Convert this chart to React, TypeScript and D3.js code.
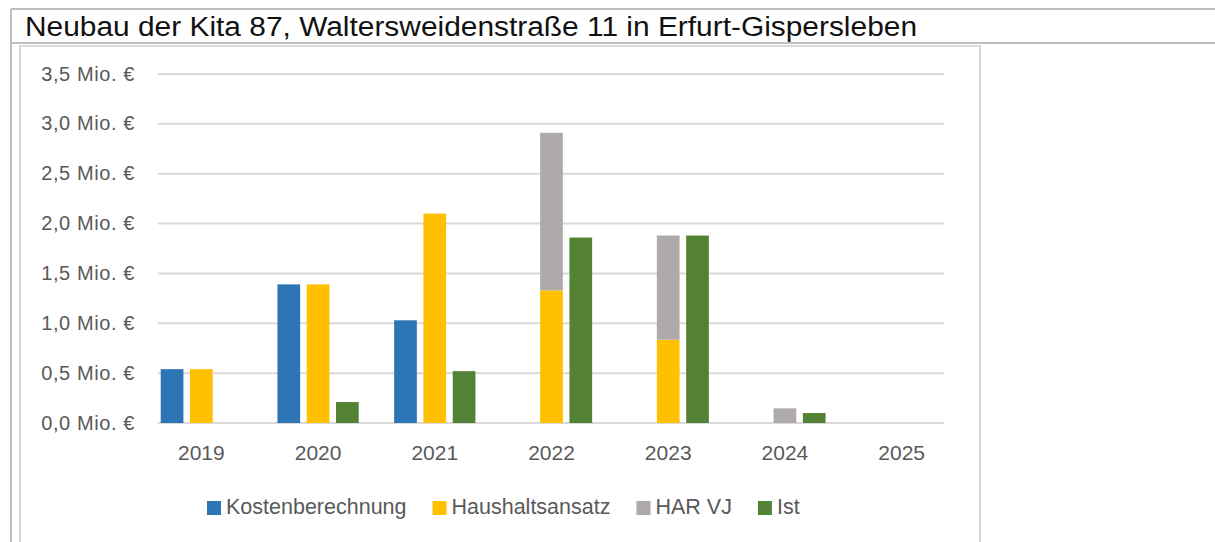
import React, { useEffect, useRef } from 'react';
import * as d3 from 'd3';

// values in Mio. €
const years = ['2019', '2020', '2021', '2022', '2023', '2024', '2025'];
const kostenberechnung = [0.54, 1.39, 1.03, 0, 0, 0, 0];
const haushaltsansatz = [0.54, 1.39, 2.1, 1.33, 0.835, 0, 0];
const harVJ = [0, 0, 0, 1.58, 1.045, 0.147, 0];
const ist = [0, 0.21, 0.52, 1.86, 1.88, 0.1, 0];
const yTicks = [0, 0.5, 1, 1.5, 2, 2.5, 3, 3.5];
const seriesNames = ['Kostenberechnung', 'Haushaltsansatz', 'HAR VJ', 'Ist'];
const colors = ['#2E75B6', '#FFC000', '#AEAAAA', '#548235'];

const title = 'Neubau der Kita 87, Waltersweidenstraße 11 in Erfurt-Gispersleben';

const App = () => {
  const ref = useRef<SVGSVGElement>(null);

  useEffect(() => {
    const svg = d3.select(ref.current);
    svg.selectAll('*').remove();

    const width = 1215;
    const height = 542;
    const font = '"Liberation Sans", Arial, sans-serif';
    const textColor = '#595959';

    svg.append('rect').attr('width', width).attr('height', height).attr('fill', '#fff');

    // outer frame + title row
    const frame = svg.append('g').attr('stroke', '#bfbfbf').attr('stroke-width', 2);
    frame.append('line').attr('x1', 11).attr('x2', width).attr('y1', 9).attr('y2', 9);
    frame.append('line').attr('x1', 11).attr('x2', width).attr('y1', 43).attr('y2', 43);
    frame.append('line').attr('x1', 11).attr('x2', 11).attr('y1', 9).attr('y2', height);

    svg.append('text')
      .attr('x', 25).attr('y', 36)
      .attr('font-family', font).attr('font-size', 27)
      .attr('textLength', 892).attr('lengthAdjust', 'spacingAndGlyphs')
      .attr('fill', '#111')
      .text(title);

    // chart box
    svg.append('rect')
      .attr('x', 20).attr('y', 46).attr('width', 960).attr('height', 600)
      .attr('fill', '#fff').attr('stroke', '#d9d9d9').attr('stroke-width', 2);

    const grid = { left: 158, right: 944 };

    const y = d3.scaleLinear().domain([0, 3.5]).range([423, 74]);

    const x0 = d3.scaleBand().domain(years).range([143, 960]).padding(0);
    const groupW = 81.3;
    const x1 = d3.scaleBand<number>()
      .domain([0, 1, 2])
      .range([0, groupW])
      .paddingInner(0.225)
      .paddingOuter(0);
    const groupStart = (yr: string) => (x0(yr) as number) + x0.bandwidth() / 2 - groupW / 2;

    // gridlines
    svg.append('g')
      .selectAll('line')
      .data(yTicks)
      .join('line')
        .attr('x1', grid.left).attr('x2', grid.right)
        .attr('y1', d => y(d)).attr('y2', d => y(d))
        .attr('stroke', '#d9d9d9').attr('stroke-width', 2);

    // y labels
    const fmt = (v: number) => v.toFixed(1).replace('.', ',') + ' Mio. €';
    svg.append('g')
      .selectAll('text')
      .data(yTicks)
      .join('text')
        .attr('x', 135).attr('y', d => y(d) + 6.5)
        .attr('text-anchor', 'end')
        .attr('font-family', font).attr('font-size', 20)
        .attr('letter-spacing', 0.6)
        .attr('fill', textColor)
        .text(d => fmt(d));

    // bars
    type Bar = { year: string; slot: number; y0: number; y1: number; color: string };
    const bars: Bar[] = [];
    years.forEach((yr, i) => {
      if (kostenberechnung[i] > 0) bars.push({ year: yr, slot: 0, y0: 0, y1: kostenberechnung[i], color: colors[0] });
      if (haushaltsansatz[i] > 0) bars.push({ year: yr, slot: 1, y0: 0, y1: haushaltsansatz[i], color: colors[1] });
      if (harVJ[i] > 0) bars.push({ year: yr, slot: 1, y0: haushaltsansatz[i], y1: haushaltsansatz[i] + harVJ[i], color: colors[2] });
      if (ist[i] > 0) bars.push({ year: yr, slot: 2, y0: 0, y1: ist[i], color: colors[3] });
    });

    svg.append('g')
      .selectAll('rect')
      .data(bars)
      .join('rect')
        .attr('x', d => groupStart(d.year) + (x1(d.slot) as number))
        .attr('y', d => y(d.y1))
        .attr('width', x1.bandwidth())
        .attr('height', d => y(d.y0) - y(d.y1))
        .attr('fill', d => d.color);

    // x labels
    svg.append('g')
      .selectAll('text')
      .data(years)
      .join('text')
        .attr('x', d => (x0(d) as number) + x0.bandwidth() / 2)
        .attr('y', 460)
        .attr('text-anchor', 'middle')
        .attr('font-family', font).attr('font-size', 21)
        .attr('fill', textColor)
        .text(d => d);

    // legend
    const legend = svg.append('g');
    let lx = 207;
    seriesNames.forEach((name, i) => {
      legend.append('rect')
        .attr('x', lx).attr('y', 501).attr('width', 14).attr('height', 14)
        .attr('fill', colors[i]);
      const t = legend.append('text')
        .attr('x', lx + 19).attr('y', 514)
        .attr('font-family', font).attr('font-size', 21.5)
        .attr('fill', textColor)
        .text(name);
      const w = (t.node() as SVGTextElement).getComputedTextLength();
      lx = lx + 19 + w + 26;
    });
  }, []);

  return <svg ref={ref} width={1215} height={542} style={{ display: 'block', position: 'absolute', left: 0, top: 0 }} />;
};

export default App;
